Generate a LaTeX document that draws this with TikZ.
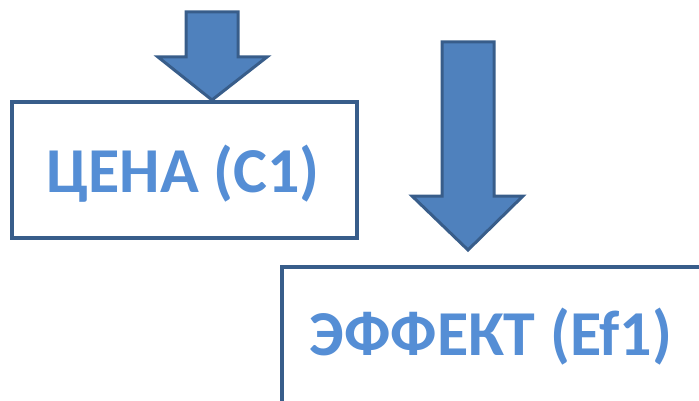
\documentclass[tikz,border=0pt]{standalone}
\usepackage{fontspec}
\setmainfont{Carlito}
\definecolor{arrfill}{HTML}{4F81BD}
\definecolor{arrline}{HTML}{385D8A}
\definecolor{txtblue}{HTML}{558ED5}
\begin{document}
\begin{tikzpicture}[x=1pt,y=-1pt,
  boxstyle/.style={draw=arrline,line width=4pt,fill=white},
  arrowstyle/.style={draw=arrline,line width=3pt,fill=arrfill,line join=miter},
  labelstyle/.style={text=txtblue,font=\bfseries\fontsize{64}{64}\selectfont,anchor=base}]
\useasboundingbox (0,0) rectangle (699,401);
% arrow 1
\draw[arrowstyle] (186,12) -- (238,12) -- (238,57) -- (267,57) -- (212,100) -- (158,57) -- (186,57) -- cycle;
% box 1
\draw[boxstyle] (12,102) rectangle (357,238);
\node[labelstyle] (c1) at (183,193) {ЦЕНА (С1)};
% arrow 2
\draw[arrowstyle] (442,42) -- (494,42) -- (494,196) -- (523,196) -- (468,250) -- (412,196) -- (442,196) -- cycle;
% box 2
\draw[boxstyle] (282,267) rectangle (720,420);
\node[labelstyle] (e1) at (491,355) {ЭФФЕКТ (Ef1)};
\end{tikzpicture}
\end{document}
